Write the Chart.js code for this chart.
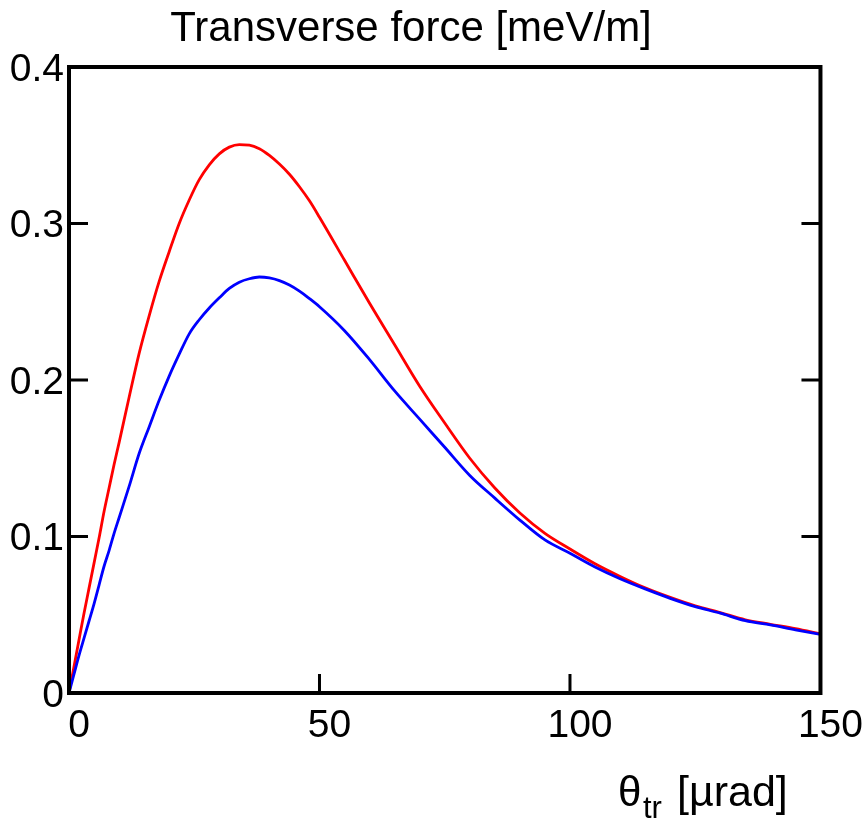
<!DOCTYPE html>
<html>
<head>
<meta charset="utf-8">
<script src="https://cdn.jsdelivr.net/npm/chart.js@4"></script>
<style>
html, body { margin: 0; padding: 0; background: #fff; }
#wrap { width: 863px; height: 821px; }
</style>
</head>
<body>
<div id="wrap"><canvas id="force"></canvas></div>
<script>
// theta_tr in µrad
const theta = [0, 1, 2, 3, 4, 5, 6, 7, 8, 9, 10, 12, 14, 16, 18, 20, 22, 24, 26, 28, 30,
    32, 34, 36, 38, 40, 42, 44, 46, 48, 50, 55, 60, 65, 70, 75, 80, 85, 90, 95, 100,
    105, 110, 115, 120, 125, 130, 135, 140, 145, 150];
// transverse force, meV/m
const forceRed = [0, 0.017, 0.034, 0.051, 0.067, 0.083, 0.099, 0.116, 0.131, 0.146, 0.16,
    0.189, 0.217, 0.241, 0.263, 0.282, 0.3, 0.315, 0.328, 0.3375, 0.3445,
    0.3488, 0.3504, 0.3501, 0.3478, 0.3435, 0.338, 0.3315, 0.3235, 0.3145, 0.304,
    0.2765, 0.249, 0.2225, 0.196, 0.1725, 0.150, 0.131, 0.115, 0.102, 0.092,
    0.0826, 0.0745, 0.0672, 0.0611, 0.0557, 0.0514, 0.0468, 0.0439, 0.0411, 0.0378];
const forceBlue = [0, 0.012, 0.024, 0.035, 0.046, 0.057, 0.069, 0.081, 0.091, 0.102, 0.112,
    0.132, 0.153, 0.170, 0.187, 0.2025, 0.2165, 0.2295, 0.2385, 0.246, 0.2525,
    0.2585, 0.2625, 0.2647, 0.2658, 0.2652, 0.2635, 0.2607, 0.2568, 0.252, 0.2468,
    0.2315, 0.213, 0.193, 0.175, 0.157, 0.139, 0.1245, 0.1105, 0.0978, 0.0893,
    0.0805, 0.073, 0.0665, 0.0605, 0.0552, 0.051, 0.0462, 0.0435, 0.0404, 0.0375];
const xTicks = [0, 50, 100, 150];
const yTicks = [0, 0.1, 0.2, 0.3, 0.4];

const FONT = 'Liberation Sans, Arial, sans-serif';

// box around the plot, inward ticks, and the x axis title with subscript
const framePlugin = {
    id: 'frame',
    afterDatasetsDraw(chart) {
        const { ctx, chartArea: a, scales: { x, y } } = chart;
        ctx.save();
        ctx.strokeStyle = '#000';
        ctx.lineWidth = 3;
        ctx.beginPath();
        yTicks.slice(1, -1).forEach(v => {
            const py = y.getPixelForValue(v);
            ctx.moveTo(a.left, py); ctx.lineTo(a.left + 19, py);
            ctx.moveTo(a.right, py); ctx.lineTo(a.right - 19, py);
        });
        xTicks.slice(1, -1).forEach(v => {
            const px = x.getPixelForValue(v);
            ctx.moveTo(px, a.bottom); ctx.lineTo(px, a.bottom - 19);
        });
        ctx.stroke();
        ctx.lineWidth = 4;
        ctx.strokeRect(a.left, a.top, a.right - a.left, a.bottom - a.top);

        ctx.fillStyle = '#000';
        ctx.textBaseline = 'alphabetic';
        ctx.textAlign = 'left';
        ctx.font = '42px ' + FONT;
        ctx.fillText('θ', 618, 806);
        ctx.font = '31px ' + FONT;
        ctx.fillText('tr', 643, 818);
        ctx.font = '43px ' + FONT;
        ctx.fillText('[µrad]', 677, 806);
        ctx.restore();
    }
};

new Chart(document.getElementById('force'), {
    type: 'line',
    data: {
        datasets: [{
            label: 'red',
            data: theta.map((t, i) => ({ x: t, y: forceRed[i] })),
            borderColor: '#ff0000',
            borderWidth: 2.8,
            pointRadius: 0,
            cubicInterpolationMode: 'monotone',
            order: 1,
        }, {
            label: 'blue',
            data: theta.map((t, i) => ({ x: t, y: forceBlue[i] })),
            borderColor: '#0000ff',
            borderWidth: 2.8,
            pointRadius: 0,
            cubicInterpolationMode: 'monotone',
            order: 0,
        }],
    },
    options: {
        responsive: true,
        maintainAspectRatio: false,
        animation: false,
        layout: { padding: { left: 0, right: 41, top: 0, bottom: 0 } },
        plugins: {
            legend: { display: false },
            tooltip: { enabled: false },
            title: {
                display: true,
                text: 'Transverse force [meV/m]',
                color: '#000',
                font: { family: FONT, size: 42, weight: 'normal', lineHeight: 1 },
                padding: { top: 8, bottom: 17 },
            },
        },
        scales: {
            x: {
                type: 'linear',
                min: 0,
                max: 150,
                grid: { display: false, drawTicks: false },
                border: { display: false },
                ticks: {
                    stepSize: 50,
                    color: '#000',
                    font: { family: FONT, size: 39 },
                    padding: 10,
                    labelOffset: 10,
                    maxRotation: 0,
                },
                afterFit: s => { s.height = 128; },
            },
            y: {
                min: 0,
                max: 0.4,
                grid: { display: false, drawTicks: false },
                border: { display: false },
                ticks: {
                    stepSize: 0.1,
                    color: '#000',
                    font: { family: FONT, size: 39 },
                    padding: 5,
                    labelOffset: 3,
                },
                afterFit: s => { s.width = 69; },
            },
        },
    },
    plugins: [framePlugin],
});
</script>
</body>
</html>
